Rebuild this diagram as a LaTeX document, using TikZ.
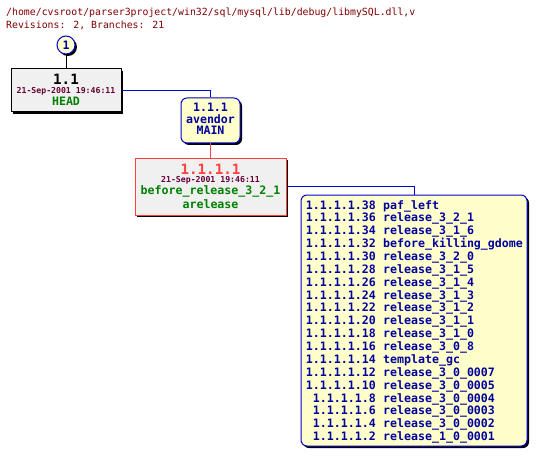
\documentclass[tikz,border=0pt]{standalone}
\usepackage{fontspec}
\newfontfamily\monob{DejaVu Sans Mono Bold}
\newfontfamily\mono{DejaVu Sans Mono}
\usetikzlibrary{shadows}
\definecolor{hdrred}{RGB}{128,0,0}
\definecolor{datered}{RGB}{102,0,51}
\definecolor{txtblue}{RGB}{0,0,160}
\definecolor{lnblue}{RGB}{0,0,204}
\definecolor{revgreen}{RGB}{0,128,0}
\definecolor{revred}{RGB}{255,64,64}
\definecolor{yel}{RGB}{255,255,204}
\definecolor{gry}{RGB}{240,240,240}
\tikzset{
  shad/.style={drop shadow={shadow xshift=2pt,shadow yshift=-2pt,opacity=1,fill=black}},
  graybox/.style={draw=black,fill=gry,line width=1pt,inner sep=0,shad},
  redbox/.style={draw=revred,fill=gry,line width=1pt,inner sep=0,shad},
  yelbox/.style={draw=lnblue,fill=yel,line width=1pt,rounded corners=6pt,inner sep=0,shad},
  txt/.style={inner sep=0,anchor=base},
  big/.style={txt,font=\monob\fontsize{14.2}{16}\selectfont},
  mid/.style={txt,font=\monob\fontsize{11.6}{13}\selectfont},
  small/.style={txt,font=\monob\fontsize{8.2}{9}\selectfont,text=datered},
  hdr/.style={inner sep=0,anchor=base west,font=\mono\fontsize{9.85}{11}\selectfont,text=hdrred},
  blueline/.style={draw=lnblue,line width=1pt},
  redline/.style={draw=revred,line width=1pt},
  blackline/.style={draw=black,line width=1pt}
}
\begin{document}
\begin{tikzpicture}[x=1pt,y=-1pt]
\useasboundingbox[fill=white] (0,0) rectangle (537,457);
% header
\node[hdr] (h1) at (6,16) {/home/cvsroot/parser3project/win32/sql/mysql/lib/debug/libmySQL.dll,v};
\node[hdr] (h2) at (6,29) {Revisions: 2, Branches: 21};
% circle
\node[circle,draw=lnblue,fill=yel,line width=1pt,minimum size=18pt,inner sep=0,shad,font=\monob\fontsize{11.6}{13}\selectfont,text=txtblue] (c1) at (66,45) {1};
% box 1.1
\node[graybox,minimum width=110pt,minimum height=43pt] (r11) at (66,90.5) {};
\node[big] (r11a) at (66,85) {1.1};
\node[small] (r11b) at (66,94) {21-Sep-2001 19:46:11};
\node[mid,text=revgreen] (r11c) at (66,106) {HEAD};
% box 1.1.1
\node[yelbox,minimum width=59pt,minimum height=45pt] (r111) at (210.5,120.5) {};
\node[mid,text=txtblue] (r111a) at (210.5,112) {1.1.1};
\node[mid,text=txtblue] (r111b) at (210.5,123.5) {avendor};
\node[mid,text=txtblue] (r111c) at (210.5,134.5) {MAIN};
% box 1.1.1.1
\node[redbox,minimum width=151pt,minimum height=57pt] (r1111) at (210.5,186.5) {};
\node[big,text=revred] (r1111a) at (210.5,174) {1.1.1.1};
\node[small] (r1111b) at (210.5,182.5) {21-Sep-2001 19:46:11};
\node[mid,text=revgreen] (r1111c) at (210.5,194.5) {before\_release\_3\_2\_1};
\node[mid,text=revgreen] (r1111d) at (210.5,208) {arelease};
% branch list
\node[yelbox,minimum width=226pt,minimum height=251pt] (lst) at (414,320.5) {};
\foreach \r/\n [count=\i from 0] in {
  1.1.1.1.38/paf\_left,
  1.1.1.1.36/release\_3\_2\_1,
  1.1.1.1.34/release\_3\_1\_6,
  1.1.1.1.32/before\_killing\_gdome,
  1.1.1.1.30/release\_3\_2\_0,
  1.1.1.1.28/release\_3\_1\_5,
  1.1.1.1.26/release\_3\_1\_4,
  1.1.1.1.24/release\_3\_1\_3,
  1.1.1.1.22/release\_3\_1\_2,
  1.1.1.1.20/release\_3\_1\_1,
  1.1.1.1.18/release\_3\_1\_0,
  1.1.1.1.16/release\_3\_0\_8,
  1.1.1.1.14/template\_gc,
  1.1.1.1.12/release\_3\_0\_0007,
  1.1.1.1.10/release\_3\_0\_0005,
  1.1.1.1.8/release\_3\_0\_0004,
  1.1.1.1.6/release\_3\_0\_0003,
  1.1.1.1.4/release\_3\_0\_0002,
  1.1.1.1.2/release\_1\_0\_0001}{
  \node[mid,anchor=base east,text=txtblue] (rv\i) at (376,209+12.87*\i) {\r};
  \node[mid,anchor=base west,text=txtblue] (nm\i) at (383,209+12.87*\i) {\n};
}
% connectors
\draw[blackline] (c1.south) -- (r11.north);
\draw[blueline] (r11.east) -| (r111.north);
\draw[redline] (r111.south) -- (r1111.north);
\draw[blueline] (r1111.east) -| (lst.north);
\end{tikzpicture}
\end{document}
